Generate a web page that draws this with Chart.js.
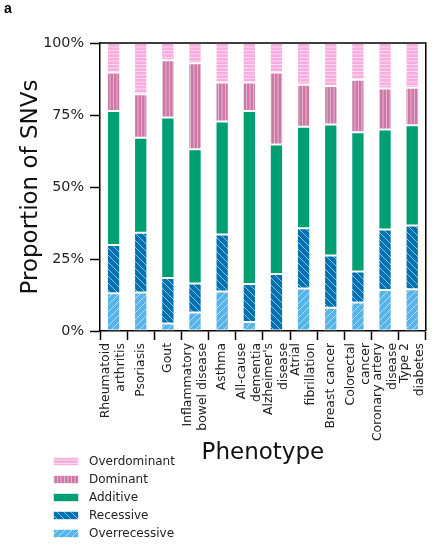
<!DOCTYPE html>
<html>
<head>
<meta charset="utf-8">
<script src="https://cdn.jsdelivr.net/npm/chart.js@4/dist/chart.umd.min.js"></script>
<style>
  html, body { margin: 0; padding: 0; background: #ffffff; }
  #wrap { width: 445px; height: 548px; position: relative; }
</style>
</head>
<body>
<div id="wrap"><canvas id="c" width="445" height="548"></canvas></div>
<script>
// Phenotypes along the x axis (multi-line labels as arrays)
const categories = [
  ["Rheumatoid", "arthritis"], "Psoriasis", "Gout", ["Inflammatory", "bowel disease"],
  "Asthma", ["All-cause", "dementia"], ["Alzheimer's", "disease"], ["Atrial", "fibrillation"],
  "Breast cancer", ["Colorectal", "cancer"], ["Coronary artery", "disease"], ["Type 2", "diabetes"]
];

// Share of SNVs (%) per inheritance model, one value per phenotype
const overrecessive = [13.1, 13.4, 2.6, 6.4, 13.7, 3.1, 0.0, 14.8, 8.1, 9.9, 14.2, 14.5];
const recessive     = [16.8, 20.7, 15.8, 10.1, 19.8, 13.2, 19.8, 20.9, 18.1, 10.8, 21.0, 22.1];
const additive      = [46.5, 33.0, 55.7, 46.6, 39.2, 60.1, 45.0, 35.2, 45.5, 48.3, 34.8, 34.8];
const dominant      = [13.4, 15.1, 19.9, 29.9, 13.6, 9.9, 25.0, 14.6, 13.4, 18.2, 14.2, 13.1];
const overdominant  = [10.2, 17.8, 6.0, 7.0, 13.7, 13.7, 10.2, 14.5, 14.9, 12.8, 15.8, 15.5];

const yTicks = [0, 25, 50, 75, 100];

// ---- fill patterns -------------------------------------------------------
function makePattern(base, size, draw) {
  const c = document.createElement('canvas');
  c.width = size; c.height = size;
  const g = c.getContext('2d');
  g.fillStyle = base;
  g.fillRect(0, 0, size, size);
  draw(g, size);
  return document.getElementById('c').getContext('2d').createPattern(c, 'repeat');
}

const patOverdominant = makePattern('#f9addf', 7, (g, s) => {
  g.fillStyle = 'rgba(255,255,255,0.55)';
  g.fillRect(0, 1, s, 1);
  g.fillRect(0, 4.5, s, 1);
});
const patDominant = makePattern('#cc79a7', 7, (g, s) => {
  g.fillStyle = 'rgba(255,255,255,0.45)';
  g.fillRect(1, 0, 1, s);
  g.fillRect(4.5, 0, 1, s);
});
const patRecessive = makePattern('#0072b2', 7, (g, s) => {
  g.strokeStyle = 'rgba(255,255,255,0.55)';
  g.lineWidth = 1;
  g.beginPath();
  g.moveTo(0, 0); g.lineTo(s, s);
  g.moveTo(-1, s - 1); g.lineTo(1, s + 1);
  g.moveTo(s - 1, -1); g.lineTo(s + 1, 1);
  g.stroke();
});
const patOverrecessive = makePattern('#56b4e9', 7, (g, s) => {
  g.strokeStyle = 'rgba(255,255,255,0.55)';
  g.lineWidth = 1;
  g.beginPath();
  g.moveTo(0, s); g.lineTo(s, 0);
  g.moveTo(-1, 1); g.lineTo(1, -1);
  g.moveTo(s - 1, s + 1); g.lineTo(s + 1, s - 1);
  g.stroke();
});

const barStyle = {
  borderColor: 'rgba(255,255,255,0.75)',
  borderWidth: 1,
  borderSkipped: false,
  barPercentage: 0.49,
  categoryPercentage: 1.0
};

const datasets = [
  Object.assign({ label: 'Overrecessive', data: overrecessive, backgroundColor: patOverrecessive }, barStyle),
  Object.assign({ label: 'Recessive', data: recessive, backgroundColor: patRecessive }, barStyle),
  Object.assign({ label: 'Additive', data: additive, backgroundColor: '#009e73' }, barStyle),
  Object.assign({ label: 'Dominant', data: dominant, backgroundColor: patDominant }, barStyle),
  Object.assign({ label: 'Overdominant', data: overdominant, backgroundColor: patOverdominant }, barStyle)
];

// Centre multi-line rotated tick labels on their tick
const centerMultiline = {
  id: 'centerMultiline',
  beforeDraw(chart) {
    const scale = chart.scales.x;
    const items = scale.getLabelItems(chart.chartArea);
    items.forEach(it => {
      if (!it._centred && Array.isArray(it.label) && it.label.length > 1) {
        it.textOffset -= (it.label.length - 1) * it.font.lineHeight / 2;
        it._centred = true;
      }
    });
  }
};

// Top/right frame lines, panel letter and the legend box
const decorations = {
  id: 'decorations',
  afterDraw(chart) {
    const { ctx, chartArea: a } = chart;
    ctx.save();
    ctx.strokeStyle = '#000000';
    ctx.lineWidth = 1.5;
    ctx.beginPath();
    ctx.moveTo(a.left, a.top);
    ctx.lineTo(a.right, a.top);
    ctx.lineTo(a.right, a.bottom);
    ctx.stroke();

    ctx.fillStyle = '#000000';
    ctx.font = 'bold 14px "Liberation Sans", Arial, sans-serif';
    ctx.textBaseline = 'alphabetic';
    ctx.textAlign = 'left';
    ctx.fillText('a', 4, 13);

    // legend, top entry is the top of the stack
    const items = chart.data.datasets.slice().reverse();
    ctx.font = '12px "DejaVu Sans"';
    ctx.textBaseline = 'middle';
    items.forEach((ds, i) => {
      const y = 457 + i * 18;
      ctx.fillStyle = ds.backgroundColor;
      ctx.fillRect(53, y, 26, 9);
      ctx.strokeStyle = 'rgba(255,255,255,0.8)';
      ctx.lineWidth = 1;
      ctx.strokeRect(53.5, y + 0.5, 25, 8);
      ctx.fillStyle = '#222222';
      ctx.fillText(ds.label, 89, y + 4.5);
    });
    ctx.restore();
  }
};

Chart.defaults.font.family = '"DejaVu Sans"';
Chart.defaults.color = '#222222';

new Chart(document.getElementById('c'), {
  type: 'bar',
  data: { labels: categories, datasets },
  plugins: [centerMultiline, decorations],
  options: {
    responsive: false,
    animation: false,
    layout: { padding: { left: 0, right: 1, top: 43, bottom: 0 } },
    plugins: {
      legend: { display: false },
      tooltip: { enabled: false }
    },
    scales: {
      x: {
        stacked: true,
        grid: { drawOnChartArea: false, tickLength: 9, tickWidth: 1.5, tickColor: '#000000' },
        border: { color: '#000000', width: 1.5 },
        ticks: {
          autoSkip: false, maxRotation: 90, minRotation: 90, padding: 3,
          font: { size: 12.4 }, color: '#222222'
        },
        title: {
          display: true, text: 'Phenotype', color: '#111111',
          font: { size: 23 }, padding: { top: 0, bottom: 81 }
        },
        afterFit(scale) { scale.height = 217; }
      },
      y: {
        stacked: true,
        min: 0, max: 100,
        afterBuildTicks(scale) { scale.ticks = yTicks.map(v => ({ value: v })); },
        grid: { drawOnChartArea: false, tickLength: 10, tickWidth: 1.5, tickColor: '#000000' },
        border: { color: '#000000', width: 1.5 },
        ticks: {
          padding: 6, font: { size: 14.3 }, color: '#222222',
          callback: v => v + '%'
        },
        title: {
          display: true, text: 'Proportion of SNVs', color: '#111111',
          font: { size: 23 }, padding: { top: 17, bottom: 0 }
        },
        afterFit(scale) { scale.width = 100; }
      }
    }
  }
});
</script>
</body>
</html>
